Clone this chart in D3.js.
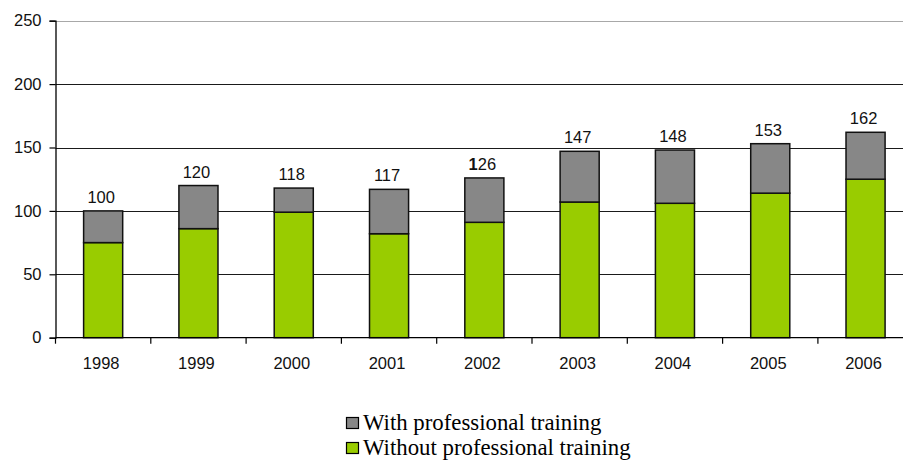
<!DOCTYPE html>
<html>
<head>
<meta charset="utf-8">
<script src="https://cdn.jsdelivr.net/npm/d3@7"></script>
<style>
  html, body { margin: 0; padding: 0; background: #fff; }
  svg { display: block; }
</style>
</head>
<body>
<svg id="chart" width="903" height="464"></svg>
<script>
// chart data
const years = ["1998", "1999", "2000", "2001", "2002", "2003", "2004", "2005", "2006"];
const withoutTraining = [75, 86, 99, 82, 91, 107, 106, 114, 125];
const withTraining = [25, 34, 19, 35, 35, 40, 42, 39, 37];
const yTicks = [0, 50, 100, 150, 200, 250];
const seriesNames = ["With professional training", "Without professional training"];
const seriesColors = ["#878787", "#99cc00"];
const boldFirstDigit = ["2002"]; // the source shows "126" with a bold "1"

function drawChart() {
	const svg = d3.select("#chart");

	// plot area (runs past the right edge, like the source)
	const left = 55.5, top = 20.7, bottom = 337.7, band = 95.3;

	const x = d3.scaleBand()
		.domain(years)
		.range([left, left + band * years.length])
		.padding(0);

	const y = d3.scaleLinear()
		.domain([0, 250])
		.range([bottom, top]);

	const barW = x.bandwidth() * 0.41;

	// gridlines
	svg.append("g")
		.selectAll("line")
		.data(yTicks.filter(d => d > 0))
		.join("line")
		.attr("x1", left)
		.attr("x2", 903)
		.attr("y1", d => Math.round(y(d)) + 0.5)
		.attr("y2", d => Math.round(y(d)) + 0.5)
		.attr("stroke", d => d === 250 ? "#a8a8a8" : "#1a1a1a")
		.attr("stroke-width", 1.2);

	// stacked bars
	const rows = years.map((yr, i) => ({
		year: yr,
		lower: withoutTraining[i],
		upper: withTraining[i],
		total: withoutTraining[i] + withTraining[i]
	}));

	const bars = svg.append("g");
	rows.forEach(r => {
		const cx = x(r.year) + x.bandwidth() / 2;
		bars.append("rect")
			.attr("x", cx - barW / 2)
			.attr("y", y(r.lower))
			.attr("width", barW)
			.attr("height", y(0) - y(r.lower))
			.attr("fill", seriesColors[1])
			.attr("stroke", "#111")
			.attr("stroke-width", 1.5);
		bars.append("rect")
			.attr("x", cx - barW / 2)
			.attr("y", y(r.total))
			.attr("width", barW)
			.attr("height", y(r.lower) - y(r.total))
			.attr("fill", seriesColors[0])
			.attr("stroke", "#111")
			.attr("stroke-width", 1.5);

		// total label
		const lbl = bars.append("text")
			.attr("x", cx - 2)
			.attr("y", y(r.total) - 8)
			.attr("text-anchor", "middle")
			.attr("font-family", "Liberation Sans, Arial, sans-serif")
			.attr("font-size", 16.5)
			.attr("fill", "#111");
		const s = String(r.total);
		if (boldFirstDigit.includes(r.year)) {
			lbl.append("tspan").attr("font-weight", "bold").text(s[0]);
			lbl.append("tspan").text(s.slice(1));
		} else {
			lbl.text(s);
		}
	});

	// y axis
	const yAxis = d3.axisLeft(y).tickValues(yTicks).tickSize(6).tickPadding(8);
	const gy = svg.append("g")
		.attr("transform", `translate(${left},0)`)
		.call(yAxis);
	gy.select(".domain").attr("stroke", "#000").attr("stroke-width", 1.3);
	gy.selectAll(".tick line").attr("stroke", "#000").attr("stroke-width", 1.2);
	gy.selectAll(".tick text")
		.attr("font-family", "Liberation Sans, Arial, sans-serif")
		.attr("font-size", 16.5)
		.attr("fill", "#111");

	// x axis, ticks between categories
	const gx = svg.append("g")
		.attr("transform", `translate(0,${bottom})`);
	gx.append("line")
		.attr("x1", left).attr("x2", 903)
		.attr("stroke", "#000").attr("stroke-width", 1.3);
	gx.selectAll("line.tk")
		.data(years)
		.join("line")
		.attr("class", "tk")
		.attr("x1", d => x(d)).attr("x2", d => x(d))
		.attr("y1", 0).attr("y2", 6)
		.attr("stroke", "#000").attr("stroke-width", 1.2);
	gx.selectAll("text")
		.data(years)
		.join("text")
		.attr("x", d => x(d) + x.bandwidth() / 2 - 2)
		.attr("y", 31)
		.attr("text-anchor", "middle")
		.attr("font-family", "Liberation Sans, Arial, sans-serif")
		.attr("font-size", 16.5)
		.attr("fill", "#111")
		.text(d => d);

	// legend
	const legend = svg.append("g").attr("transform", "translate(346,417)");
	seriesNames.forEach((name, i) => {
		const g = legend.append("g").attr("transform", `translate(0,${i * 25})`);
		g.append("rect")
			.attr("x", 0.5).attr("y", 0.5)
			.attr("width", 12).attr("height", 11)
			.attr("fill", seriesColors[i])
			.attr("stroke", "#000").attr("stroke-width", 1.2);
		g.append("text")
			.attr("x", 17)
			.attr("y", 12.5)
			.attr("font-family", "Liberation Serif, Times New Roman, serif")
			.attr("font-size", 22.8)
			.attr("fill", "#000")
			.text(name);
	});
}

drawChart();
</script>
</body>
</html>
